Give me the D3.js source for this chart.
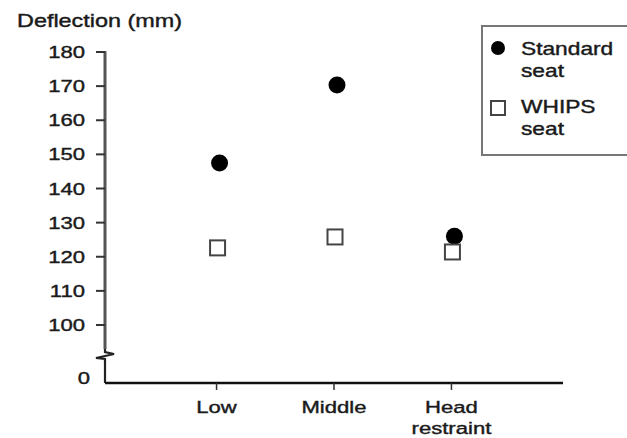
<!DOCTYPE html>
<html>
<head>
<meta charset="utf-8">
<script src="https://cdn.jsdelivr.net/npm/d3@7"></script>
<style>
  body { margin: 0; background: #fff; }
  text { font-family: "Liberation Sans", Arial, sans-serif; fill: #1a1a1a; stroke: #1a1a1a; stroke-width: 0.4; }
</style>
</head>
<body>
<div id="chart"></div>
<script>
const categories = [['Low'], ['Middle'], ['Head', 'restraint']];
const standardSeat = [147.5, 170.3, 126];
const whipsSeat = [122.6, 125.8, 121.4];
const yTicks = [100, 110, 120, 130, 140, 150, 160, 170, 180];

const width = 627, height = 438;
const sx = 1.3; // text in the picture is drawn wide

const svg = d3.select('#chart').append('svg')
  .attr('width', width)
  .attr('height', height);

const axisX = 105, baseY = 383;

const x = d3.scalePoint()
  .domain(categories.map(d => d.join(' ')))
  .range([axisX, 563])
  .padding(0.95);

const y = d3.scaleLinear().domain([100, 180]).range([325, 52]);

// wide text helper
function label(g, tx, ty, str, anchor, size) {
  return g.append('text')
    .attr('transform', `translate(${tx},${ty}) scale(${sx},1)`)
    .attr('text-anchor', anchor || 'start')
    .attr('font-size', size || 17)
    .text(str);
}

// y axis (broken)
svg.append('line')
  .attr('x1', axisX).attr('x2', axisX)
  .attr('y1', y(180) - 1).attr('y2', 349)
  .attr('stroke', '#555').attr('stroke-width', 3);
svg.append('path')
  .attr('d', `M${axisX},349 L${axisX},352 L${axisX + 9},354 L${axisX - 9},358 L${axisX},359 L${axisX},362`)
  .attr('fill', 'none').attr('stroke', '#222').attr('stroke-width', 2.2);
svg.append('line')
  .attr('x1', axisX).attr('x2', axisX)
  .attr('y1', 361).attr('y2', baseY)
  .attr('stroke', '#222').attr('stroke-width', 2.2);

svg.selectAll('.ytick').data(yTicks).enter().append('line')
  .attr('x1', axisX - 9).attr('x2', axisX)
  .attr('y1', d => y(d)).attr('y2', d => y(d))
  .attr('stroke', '#333').attr('stroke-width', 2);

yTicks.forEach(d => label(svg, 85, y(d) + 6, d, 'end'));
label(svg, 90, baseY + 1, '0', 'end');

label(svg, 17, 27, 'Deflection (mm)', 'start', 18);

// x axis
svg.append('line')
  .attr('x1', axisX).attr('x2', 563)
  .attr('y1', baseY).attr('y2', baseY)
  .attr('stroke', '#111').attr('stroke-width', 2.5);

svg.selectAll('.xtick').data(categories).enter().append('line')
  .attr('x1', d => x(d.join(' '))).attr('x2', d => x(d.join(' ')))
  .attr('y1', baseY).attr('y2', baseY + 7)
  .attr('stroke', '#333').attr('stroke-width', 1.5);

categories.forEach(c => {
  c.forEach((s, i) => label(svg, x(c.join(' ')), 413 + i * 21, s, 'middle'));
});

// points
svg.selectAll('.std').data(standardSeat).enter().append('circle')
  .attr('cx', (d, i) => x(categories[i].join(' ')) + 3)
  .attr('cy', d => y(d))
  .attr('r', 8.5)
  .attr('fill', '#000');

const sq = 15;
svg.selectAll('.whips').data(whipsSeat).enter().append('rect')
  .attr('x', (d, i) => x(categories[i].join(' ')) + 1 - sq / 2)
  .attr('y', d => y(d) - sq / 2)
  .attr('width', sq).attr('height', sq)
  .attr('fill', '#fff')
  .attr('stroke', '#444').attr('stroke-width', 2);

// legend
svg.append('rect')
  .attr('x', 482).attr('y', 26)
  .attr('width', 170).attr('height', 129)
  .attr('fill', 'none')
  .attr('stroke', '#777').attr('stroke-width', 2);

svg.append('circle').attr('cx', 498).attr('cy', 48).attr('r', 7).attr('fill', '#000');
svg.append('rect').attr('x', 491).attr('y', 101).attr('width', 14).attr('height', 14)
  .attr('fill', '#fff').attr('stroke', '#444').attr('stroke-width', 2);

const legendLines = [['Standard', 55], ['seat', 77], ['WHIPS', 113], ['seat', 135]];
legendLines.forEach(d => label(svg, 521, d[1], d[0], 'start', 17.5));
</script>
</body>
</html>
